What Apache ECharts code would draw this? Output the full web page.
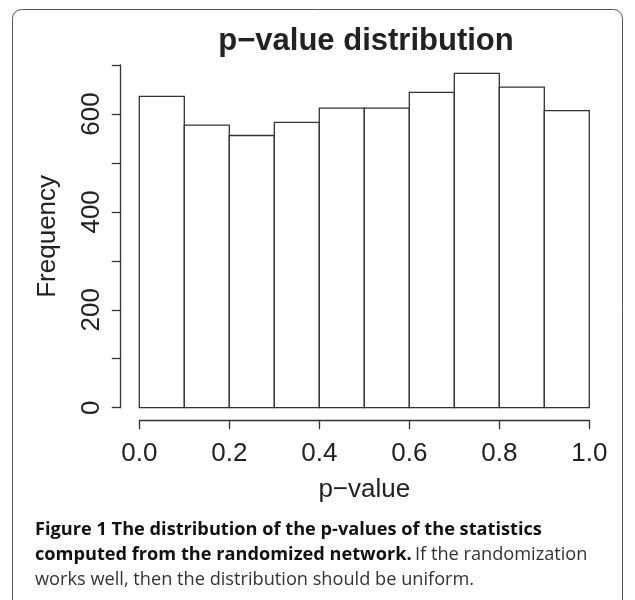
<!DOCTYPE html>
<html>
<head>
<meta charset="utf-8">
<title>p-value distribution</title>
<script src="https://cdn.jsdelivr.net/npm/echarts@6/dist/echarts.min.js"></script>
<style>
  html, body { margin: 0; padding: 0; background: #fff; }
  #main { width: 635px; height: 600px; }
</style>
</head>
<body>
<div id="main"></div>
<script type="text/javascript">
// histogram bins (0.1 wide) and counts
var binLow  = [0.0, 0.1, 0.2, 0.3, 0.4, 0.5, 0.6, 0.7, 0.8, 0.9];
var binHigh = [0.1, 0.2, 0.3, 0.4, 0.5, 0.6, 0.7, 0.8, 0.9, 1.0];
var counts  = [636, 577, 556, 583, 612, 612, 644, 683, 655, 607];
var yLabels = [0, 200, 400, 600];

var histData = [];
for (var i = 0; i < counts.length; i++) {
    histData.push([binLow[i], binHigh[i], counts[i]]);
}

var axisColor = '#333';
var textColor = '#222';
var rFont = '"Liberation Sans", Arial, Helvetica, sans-serif';
var capFont = '"Open Sans", "Noto Sans", sans-serif';

var myChart = echarts.init(document.getElementById('main'));

var option = {
    animation: false,
    backgroundColor: '#fff',
    title: {
        text: 'p\u2212value distribution',
        left: 361,
        top: 21,
        textAlign: 'center',
        textStyle: { fontFamily: rFont, fontWeight: 'bold', fontSize: 31, color: textColor }
    },
    grid: { left: 139.3, right: 45.7, top: 65, bottom: 192.3 },
    xAxis: {
        type: 'value',
        min: 0,
        max: 1,
        interval: 0.2,
        offset: 12.5,
        name: 'p\u2212value',
        nameLocation: 'middle',
        nameGap: 57,
        nameTextStyle: { fontFamily: rFont, fontSize: 26, color: textColor },
        splitLine: { show: false },
        axisLine: { show: true, onZero: false, lineStyle: { color: axisColor, width: 1.3 } },
        axisTick: { show: true, length: 9, lineStyle: { color: axisColor, width: 1.3 } },
        axisLabel: {
            margin: 21,
            fontFamily: rFont, fontSize: 26, color: textColor,
            formatter: function (v) { return v.toFixed(1); }
        }
    },
    yAxis: {
        type: 'value',
        min: 0,
        max: 700,
        interval: 100,
        offset: 18.6,
        name: 'Frequency',
        nameLocation: 'middle',
        nameRotate: 90,
        nameGap: 60,
        nameTextStyle: { fontFamily: rFont, fontSize: 26, color: textColor },
        splitLine: { show: false },
        axisLine: { show: true, onZero: false, lineStyle: { color: axisColor, width: 1.3 } },
        axisTick: { show: true, length: 9, lineStyle: { color: axisColor, width: 1.3 } },
        axisLabel: {
            rotate: 90,
            margin: 16,
            fontFamily: rFont, fontSize: 26, color: textColor,
            formatter: function (v) { return yLabels.indexOf(v) >= 0 ? String(v) : ''; }
        }
    },
    series: [{
        type: 'custom',
        data: histData,
        clip: false,
        renderItem: function (params, api) {
            var p0 = api.coord([api.value(0), 0]);
            var p1 = api.coord([api.value(1), api.value(2)]);
            return {
                type: 'rect',
                shape: { x: p0[0], y: p1[1], width: p1[0] - p0[0], height: p0[1] - p1[1] },
                style: { fill: '#fff', stroke: axisColor, lineWidth: 1.3 }
            };
        }
    }],
    graphic: [
        {
            type: 'rect',
            shape: { x: 12.5, y: 9.5, width: 610, height: 640, r: 9 },
            style: { fill: 'none', stroke: '#555', lineWidth: 1 },
            z: -1
        },
        {
            type: 'text', left: 35, top: 521,
            style: {
                text: '{b|Figure 1 The distribution of the p-values of the statistics}',
                rich: { b: { fontFamily: capFont, fontWeight: 'bold', fontSize: 18.2, fill: '#111' } }
            }
        },
        {
            type: 'text', left: 35, top: 546,
            style: {
                text: '{b|computed from the randomized network.} {r|If the randomization}',
                rich: {
                    b: { fontFamily: capFont, fontWeight: 'bold', fontSize: 18.2, fill: '#111' },
                    r: { fontFamily: capFont, fontSize: 18.2, fill: '#333' }
                }
            }
        },
        {
            type: 'text', left: 35, top: 571,
            style: {
                text: '{r|works well, then the distribution should be uniform.}',
                rich: { r: { fontFamily: capFont, fontSize: 18.2, fill: '#333' } }
            }
        }
    ]
};

myChart.setOption(option);
</script>
</body>
</html>
